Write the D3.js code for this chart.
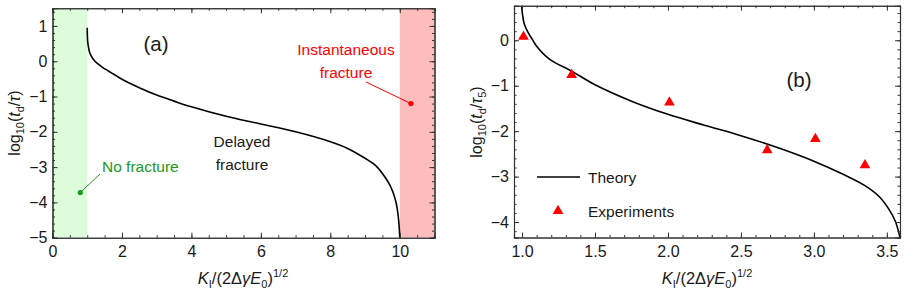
<!DOCTYPE html>
<html>
<head>
<meta charset="utf-8">
<script src="https://cdn.jsdelivr.net/npm/d3@7"></script>
<style>
  body { margin: 0; background: #fff; }
  svg { font-family: "Liberation Sans", Arial, sans-serif; }
  .axis path { stroke: #333; }
  .axis line { stroke: #333; }
  .axis text { font-size: 16px; fill: #1a1a1a; }
</style>
</head>
<body>
<div class="plot"></div>
<script>
// panel (a): theory curve
const curveA_x = [1.0, 1.005, 1.02, 1.08, 1.18, 1.3, 1.45, 1.6, 1.8, 2.0, 2.5, 3.0, 3.5, 4.0, 5.0, 6.0, 7.0, 8.0, 8.5, 9.0, 9.3, 9.5, 9.7, 9.8, 9.9, 9.95, 9.98, 10.0];
const curveA_y = [0.95, 0.7, 0.5, 0.22, 0.05, -0.07, -0.18, -0.27, -0.39, -0.51, -0.75, -0.96, -1.13, -1.29, -1.56, -1.78, -2.0, -2.28, -2.47, -2.75, -2.95, -3.18, -3.48, -3.7, -4.03, -4.35, -4.65, -5.0];
const bandsA = [[0, 1, "#dcfcdc"], [10, 11, "#ffbcbc"]];
const xTicksA = [0, 2, 4, 6, 8, 10];
const yTicksA = [-5, -4, -3, -2, -1, 0, 1];

// panel (b): theory curve and experiments
const curveB_x = [0.998, 1.0, 1.005, 1.016, 1.043, 1.07, 1.1, 1.19, 1.34, 1.5, 1.75, 2.0, 2.25, 2.5, 2.75, 3.0, 3.2, 3.35, 3.45, 3.52, 3.56, 3.59];
const curveB_y = [0.76, 0.65, 0.53, 0.35, 0.16, 0.02, -0.13, -0.42, -0.68, -0.98, -1.34, -1.63, -1.87, -2.1, -2.36, -2.66, -2.95, -3.2, -3.45, -3.75, -4.0, -4.34];
const expX = [1.01, 1.34, 2.01, 2.68, 3.01, 3.35];
const expY = [0.08, -0.76, -1.37, -2.42, -2.17, -2.75];
const xTicksB = [1.0, 1.5, 2.0, 2.5, 3.0, 3.5];
const yTicksB = [-4, -3, -2, -1, 0];

const W = 907, H = 294;
const svg = d3.select(".plot").append("svg")
    .attr("width", W)
    .attr("height", H);

const fmtMinus = d => String(d).replace("-", "\u2212");

function frame(g, x, y, xMaj, xMin, yMaj, yMin, xfmt) {
    const [x0, x1] = x.range();
    const [y0, y1] = y.range();
    // bottom
    g.append("g").attr("class", "axis").attr("transform", `translate(0,${y0})`)
        .call(d3.axisBottom(x).tickValues(xMaj).tickSize(-5).tickPadding(8).tickFormat(xfmt));
    g.append("g").attr("class", "axis").attr("transform", `translate(0,${y0})`)
        .call(d3.axisBottom(x).tickValues(xMin).tickSize(-2.5).tickFormat(""));
    // top
    g.append("g").attr("class", "axis").attr("transform", `translate(0,${y1})`)
        .call(d3.axisTop(x).tickValues(xMaj).tickSize(-5).tickFormat(""));
    g.append("g").attr("class", "axis").attr("transform", `translate(0,${y1})`)
        .call(d3.axisTop(x).tickValues(xMin).tickSize(-2.5).tickFormat(""));
    // left
    g.append("g").attr("class", "axis").attr("transform", `translate(${x0},0)`)
        .call(d3.axisLeft(y).tickValues(yMaj).tickSize(-5).tickPadding(5).tickFormat(fmtMinus));
    g.append("g").attr("class", "axis").attr("transform", `translate(${x0},0)`)
        .call(d3.axisLeft(y).tickValues(yMin).tickSize(-2.5).tickFormat(""));
    // right
    g.append("g").attr("class", "axis").attr("transform", `translate(${x1},0)`)
        .call(d3.axisRight(y).tickValues(yMaj).tickSize(-5).tickFormat(""));
    g.append("g").attr("class", "axis").attr("transform", `translate(${x1},0)`)
        .call(d3.axisRight(y).tickValues(yMin).tickSize(-2.5).tickFormat(""));
    g.selectAll(".axis .domain").attr("stroke-width", 1.1);
}

function xLabel(g, cx, y) {
    const t = g.append("text").attr("x", cx).attr("y", y)
        .attr("text-anchor", "middle").style("font-size", "16.5px").attr("fill", "#1a1a1a");
    t.append("tspan").text("K").style("font-style", "italic");
    t.append("tspan").text("I").attr("dy", 4).style("font-size", "11px");
    t.append("tspan").text("/(2Δ").attr("dy", -4);
    t.append("tspan").text("γE").style("font-style", "italic");
    t.append("tspan").text("0").attr("dy", 4).style("font-size", "11px");
    t.append("tspan").text(")").attr("dy", -4);
    t.append("tspan").text("1/2").attr("dy", -7).style("font-size", "11px");
}

function yLabel(g, cx, cy, sub) {
    const t = g.append("text").attr("transform", `translate(${cx},${cy}) rotate(-90)`)
        .attr("text-anchor", "middle").style("font-size", "16px").attr("fill", "#1a1a1a");
    t.append("tspan").text("log");
    t.append("tspan").text("10").attr("dy", 4).style("font-size", "11px");
    t.append("tspan").text("(").attr("dy", -4);
    t.append("tspan").text("t").style("font-style", "italic");
    t.append("tspan").text("d").attr("dy", 4).style("font-size", "11px");
    t.append("tspan").text("/").attr("dy", -4);
    t.append("tspan").text("τ").style("font-style", "italic");
    if (sub) {
        t.append("tspan").text(sub).attr("dy", 4).style("font-size", "11px");
        t.append("tspan").text(")").attr("dy", -4);
    } else {
        t.append("tspan").text(")");
    }
}

function range(a, b, s) {
    const out = [];
    for (let i = 0; a + i * s <= b + 1e-9; i++) out.push(+(a + i * s).toFixed(3));
    return out;
}

// ---------- panel (a)
const xA = d3.scaleLinear().domain([0, 11]).range([52.5, 434.5]);
const yA = d3.scaleLinear().domain([-5, 1.5]).range([237.7, 8.3]);
const gA = svg.append("g");

gA.selectAll("rect.band").data(bandsA).join("rect")
    .attr("x", d => xA(d[0])).attr("width", d => xA(d[1]) - xA(d[0]))
    .attr("y", yA(1.5)).attr("height", yA(-5) - yA(1.5))
    .attr("fill", d => d[2]);

gA.append("path").datum(curveA_x.map((v, i) => [v, curveA_y[i]]))
    .attr("d", d3.line().x(d => xA(d[0])).y(d => yA(d[1])).curve(d3.curveCatmullRom.alpha(0.5)))
    .attr("fill", "none").attr("stroke", "#000").attr("stroke-width", 1.6);

frame(gA, xA, yA, xTicksA, range(0, 11, 0.5), yTicksA, range(-5, 1.4, 0.2), fmtMinus);

gA.append("text").attr("x", 156).attr("y", 51).attr("text-anchor", "middle")
    .style("font-size", "20.5px").attr("fill", "#1a1a1a").text("(a)");

// annotations
gA.append("text").attr("x", 346).attr("y", 55).attr("text-anchor", "middle")
    .style("font-size", "15.5px").attr("fill", "#f00").text("Instantaneous");
gA.append("text").attr("x", 346).attr("y", 78).attr("text-anchor", "middle")
    .style("font-size", "15.5px").attr("fill", "#f00").text("fracture");
gA.append("line").attr("x1", 366).attr("y1", 82).attr("x2", xA(10.32)).attr("y2", yA(-1.2))
    .attr("stroke", "#f00").attr("stroke-width", 1);
gA.append("circle").attr("cx", xA(10.32)).attr("cy", yA(-1.2)).attr("r", 2.6).attr("fill", "#f00");

gA.append("text").attr("x", 102).attr("y", 172)
    .style("font-size", "15.5px").attr("fill", "#1a9a1a").text("No fracture");
gA.append("line").attr("x1", 100).attr("y1", 174).attr("x2", xA(0.8)).attr("y2", yA(-3.72))
    .attr("stroke", "#1a9a1a").attr("stroke-width", 1);
gA.append("circle").attr("cx", xA(0.8)).attr("cy", yA(-3.72)).attr("r", 2.6).attr("fill", "#1a9a1a");

gA.append("text").attr("x", 242).attr("y", 147).attr("text-anchor", "middle")
    .style("font-size", "15.5px").attr("fill", "#1a1a1a").text("Delayed");
gA.append("text").attr("x", 242).attr("y", 170).attr("text-anchor", "middle")
    .style("font-size", "15.5px").attr("fill", "#1a1a1a").text("fracture");

xLabel(gA, 243, 284);
yLabel(gA, 20, 123, null);

// ---------- panel (b)
const xB = d3.scaleLinear().domain([0.945, 3.59]).range([514, 900]);
const yB = d3.scaleLinear().domain([-4.34, 0.76]).range([237.5, 5.7]);
const gB = svg.append("g");

gB.append("path").datum(curveB_x.map((v, i) => [v, curveB_y[i]]))
    .attr("d", d3.line().x(d => xB(d[0])).y(d => yB(d[1])).curve(d3.curveCatmullRom.alpha(0.5)))
    .attr("fill", "none").attr("stroke", "#000").attr("stroke-width", 1.6);

const tri = d3.symbol().type(d3.symbolTriangle).size(50);
gB.selectAll("path.exp").data(expX.map((v, i) => [v, expY[i]])).join("path")
    .attr("class", "exp")
    .attr("transform", d => `translate(${xB(d[0])},${yB(d[1])})`)
    .attr("d", tri).attr("fill", "#f00");

frame(gB, xB, yB, xTicksB, range(1.0, 3.5, 0.1), yTicksB, range(-4.2, 0.6, 0.2), d3.format(".1f"));

gB.append("text").attr("x", 799).attr("y", 87).attr("text-anchor", "middle")
    .style("font-size", "20.5px").attr("fill", "#1a1a1a").text("(b)");

// legend
gB.append("line").attr("x1", 537).attr("x2", 580).attr("y1", 177).attr("y2", 177)
    .attr("stroke", "#000").attr("stroke-width", 1.6);
gB.append("text").attr("x", 588).attr("y", 182.5)
    .style("font-size", "15.5px").attr("fill", "#1a1a1a").text("Theory");
gB.append("path").attr("transform", "translate(558,211)").attr("d", tri).attr("fill", "#f00");
gB.append("text").attr("x", 588).attr("y", 217)
    .style("font-size", "15.5px").attr("fill", "#1a1a1a").text("Experiments");

xLabel(gB, 707, 284);
yLabel(gB, 482, 122, "5");
</script>
</body>
</html>
